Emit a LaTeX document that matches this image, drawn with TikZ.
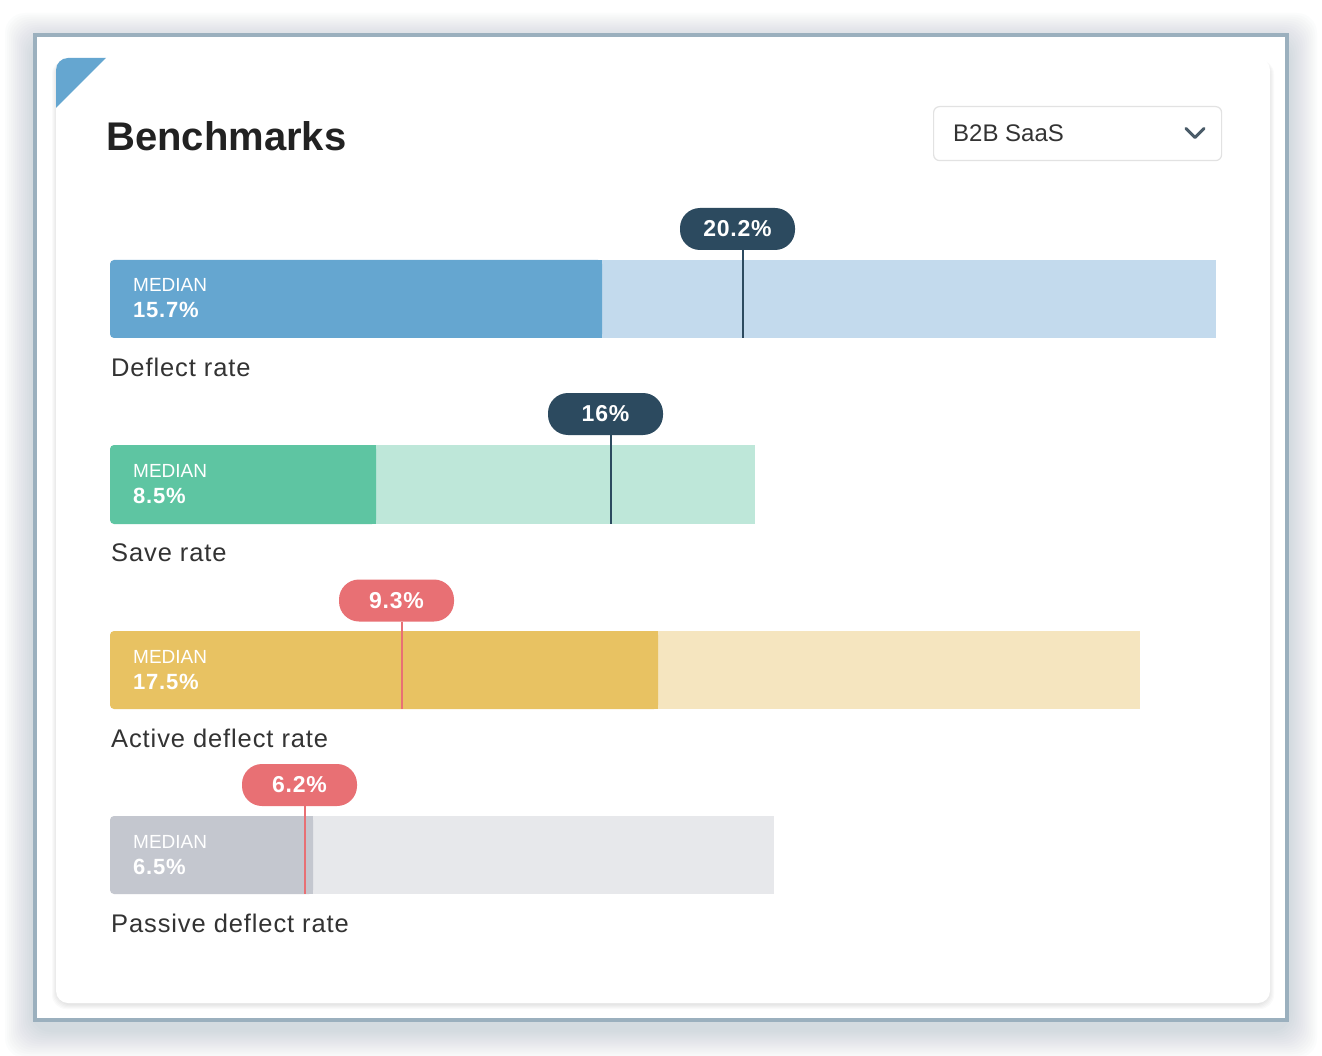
\documentclass[tikz,border=0pt]{standalone}
\usepackage{fontspec}
\setmainfont{Liberation Sans}
\newfontfamily\trackfont[LetterSpace=3.5]{Liberation Sans}
\definecolor{frameC}{HTML}{9BB0BE}
\definecolor{shadowC}{HTML}{7F93A3}
\definecolor{navyC}{HTML}{2C4A5F}
\definecolor{redC}{HTML}{E87074}
\definecolor{blueD}{HTML}{65A6D0}
\definecolor{blueL}{HTML}{C3DAED}
\definecolor{greenD}{HTML}{5EC5A2}
\definecolor{greenL}{HTML}{BEE7D9}
\definecolor{yellowD}{HTML}{E8C262}
\definecolor{yellowL}{HTML}{F5E5BF}
\definecolor{grayD}{HTML}{C4C7CF}
\definecolor{grayL}{HTML}{E7E8EB}
\definecolor{txtC}{HTML}{333333}
\definecolor{titleC}{HTML}{222222}
\definecolor{chevC}{HTML}{4A5B68}
\definecolor{ddC}{HTML}{E2E2E2}
\begin{document}
\begin{tikzpicture}[x=1pt,y=-1pt,
  pill/.style={rounded corners=20pt, minimum width=115pt, minimum height=42pt, inner sep=0pt,
    text=white, font=\trackfont\fontsize{23}{26}\selectfont\bfseries},
  medtxt/.style={anchor=base west, inner sep=0pt, text=white, font=\fontsize{19}{22}\selectfont},
  valtxt/.style={anchor=base west, inner sep=0pt, text=white, font=\trackfont\fontsize{22}{25}\selectfont\bfseries},
  labtxt/.style={anchor=base west, inner sep=0pt, text=txtC, font=\trackfont\fontsize{25.5}{28}\selectfont},
  marker/.style={line width=2pt}
]
\useasboundingbox (0,0) rectangle (1322,1056);
\fill[white] (0,0) rectangle (1322,1056);
% outer soft shadow
\foreach \i in {0,...,13}{
  \pgfmathsetmacro{\d}{30-2*\i}
  \fill[shadowC, opacity=0.022, rounded corners=20pt] (35-\d,35-\d+8) rectangle (1287+\d,1020+\d+8);
}
% frame
\fill[white] (35,35) rectangle (1287,1020);
\draw[frameC, line width=4pt] (35,35) rectangle (1287,1020);
% card shadow
\foreach \i in {0,...,4}{
  \fill[black, opacity=0.02, rounded corners=14pt] (56-\i,58+2) rectangle (1270+\i,1003+2+\i);
}
\fill[white, rounded corners=12pt] (56,58) rectangle (1270,1003);
\begin{scope}
  \clip[rounded corners=12pt] (56,58) rectangle (1270,1003);
  \fill[blueD] (56,58) -- (106,58) -- (56,108) -- cycle;
\end{scope}
% title
\node[anchor=base west, inner sep=0pt, text=titleC, font=\fontsize{40}{44}\selectfont\bfseries] (title) at (106,151) {Benchmarks};
% dropdown
\node[draw=ddC, line width=1.2pt, rounded corners=6pt, minimum width=288pt, minimum height=54pt, anchor=north west] (dd) at (933,106) {};
\node[anchor=base west, inner sep=0pt, text=txtC, font=\fontsize{24}{28}\selectfont] (ddtxt) at (953,142) {B2B SaaS};
\draw[chevC, line width=3pt, line cap=round, line join=round] (1186,128.5) -- (1195,137.5) -- (1204,128.5);

% ---- Bar 1: Deflect rate
\fill[blueL] (602,260) rectangle (1216,338);
\fill[blueD, rounded corners=4pt] (110,260) rectangle (602,338);
\fill[blueD] (590,260) rectangle (602,338);
\node[medtxt] (m1) at (133,292) {MEDIAN};
\node[valtxt] (v1) at (133,318) {15.7\%};
\node[labtxt] (l1) at (111,376) {Deflect rate};
\node[pill, fill=navyC] (p1) at (737.5,229) {20.2\%};
\coordinate (e1) at (743,338);
\draw[marker, navyC] (p1.south -| e1) -- (e1);

% ---- Bar 2: Save rate
\fill[greenL] (376,445) rectangle (755,524);
\fill[greenD, rounded corners=4pt] (110,445) rectangle (376,524);
\fill[greenD] (364,445) rectangle (376,524);
\node[medtxt] (m2) at (133,477) {MEDIAN};
\node[valtxt] (v2) at (133,503) {8.5\%};
\node[labtxt] (l2) at (111,561) {Save rate};
\node[pill, fill=navyC] (p2) at (605.5,414) {16\%};
\coordinate (e2) at (611,524);
\draw[marker, navyC] (p2.south -| e2) -- (e2);

% ---- Bar 3: Active deflect rate
\fill[yellowL] (658,631) rectangle (1140,709);
\fill[yellowD, rounded corners=4pt] (110,631) rectangle (658,709);
\fill[yellowD] (646,631) rectangle (658,709);
\node[medtxt] (m3) at (133,663) {MEDIAN};
\node[valtxt] (v3) at (133,689) {17.5\%};
\node[labtxt] (l3) at (111,747) {Active deflect rate};
\node[pill, fill=redC] (p3) at (396.5,600.5) {9.3\%};
\coordinate (e3) at (402,709);
\draw[marker, redC] (p3.south -| e3) -- (e3);

% ---- Bar 4: Passive deflect rate
\fill[grayL] (313,816) rectangle (774,894);
\fill[grayD, rounded corners=4pt] (110,816) rectangle (313,894);
\fill[grayD] (301,816) rectangle (313,894);
\node[medtxt] (m4) at (133,848) {MEDIAN};
\node[valtxt] (v4) at (133,874) {6.5\%};
\node[labtxt] (l4) at (111,932) {Passive deflect rate};
\node[pill, fill=redC] (p4) at (299.5,785) {6.2\%};
\coordinate (e4) at (305,894);
\draw[marker, redC] (p4.south -| e4) -- (e4);
\end{tikzpicture}
\end{document}
